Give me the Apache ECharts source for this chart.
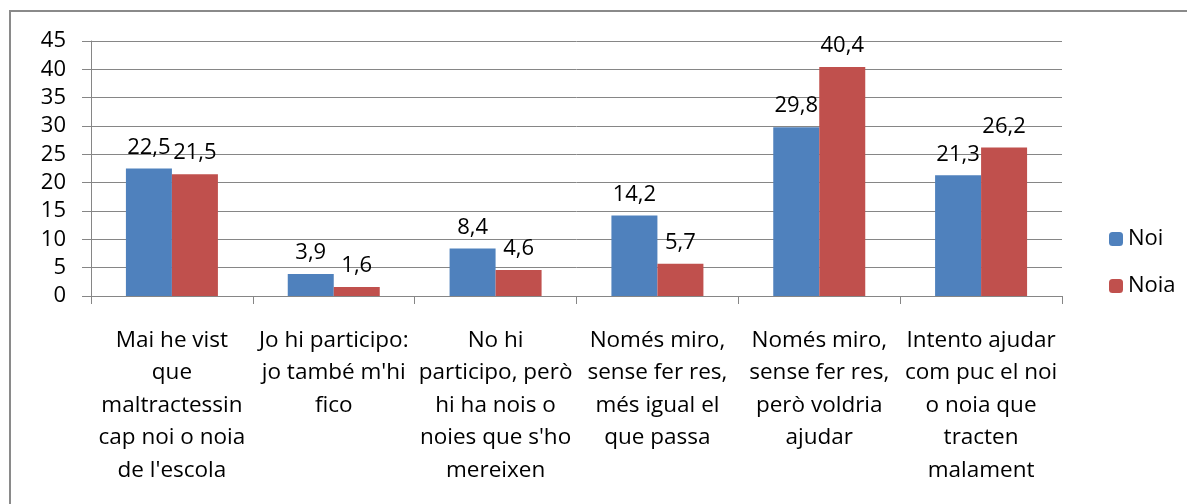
<!DOCTYPE html>
<html>
<head>
<meta charset="utf-8">
<script src="https://cdn.jsdelivr.net/npm/echarts@6/dist/echarts.min.js"></script>
<style>
  body { margin: 0; background: #fff; }
  #chart { width: 1187px; height: 504px; }
</style>
</head>
<body>
<div id="chart"></div>
<script>
var categories = [
  "Mai he vist\nque\nmaltractessin\ncap noi o noia\nde l'escola",
  "Jo hi participo:\njo també m'hi\nfico",
  "No hi\nparticipo, però\nhi ha nois o\nnoies que s'ho\nmereixen",
  "Només miro,\nsense fer res,\nmés igual el\nque passa",
  "Només miro,\nsense fer res,\nperò voldria\najudar",
  "Intento ajudar\ncom puc el noi\no noia que\ntracten\nmalament"
];
var noi = [22.5, 3.9, 8.4, 14.2, 29.8, 21.3];
var noia = [21.5, 1.6, 4.6, 5.7, 40.4, 26.2];
var yTicks = [0, 45, 5];

var font = '"Open Sans", "Noto Sans", sans-serif';
var chart = echarts.init(document.getElementById('chart'));

function comma(p) {
    return String(p.value).replace('.', ',');
}

var option = {
    animation: false,
    textStyle: { fontFamily: font },
    graphic: [{
        type: 'rect',
        shape: { x: 10, y: 11, width: 1300, height: 600 },
        style: { fill: 'none', stroke: '#8a8a8a', lineWidth: 2 },
        silent: true
    }],
    grid: { left: 91, top: 41, right: 125, bottom: 208 },
    legend: {
        orient: 'vertical',
        left: 1104,
        top: 223,
        itemWidth: 14,
        itemHeight: 14,
        itemGap: 25,
        selectedMode: false,
        textStyle: { fontSize: 22, color: '#000', fontFamily: font },
        data: ['Noi', 'Noia']
    },
    xAxis: {
        type: 'category',
        data: categories,
        axisLine: { lineStyle: { color: '#868686', width: 1 } },
        axisTick: { show: true, length: 8, lineStyle: { color: '#868686' } },
        axisLabel: {
            interval: 0,
            margin: 28,
            fontSize: 22.5,
            lineHeight: 32.5,
            color: '#000',
            align: 'center',
            fontFamily: font
        }
    },
    yAxis: {
        type: 'value',
        min: yTicks[0],
        max: yTicks[1],
        interval: yTicks[2],
        axisLine: { show: true, lineStyle: { color: '#868686' } },
        axisTick: { show: true, length: 9, lineStyle: { color: '#868686' } },
        splitLine: { lineStyle: { color: '#868686', width: 1 } },
        axisLabel: { fontSize: 22, color: '#000', margin: 25, fontFamily: font }
    },
    series: [
        {
            name: 'Noi',
            type: 'bar',
            data: noi,
            barWidth: 46,
            barGap: '0%',
            itemStyle: { color: '#4F81BD' },
            label: { show: true, position: 'top', distance: 10, fontSize: 22, color: '#000', fontFamily: font, formatter: comma }
        },
        {
            name: 'Noia',
            type: 'bar',
            data: noia,
            barWidth: 46,
            barGap: '0%',
            itemStyle: { color: '#C0504D' },
            label: { show: true, position: 'top', distance: 10, fontSize: 22, color: '#000', fontFamily: font, formatter: comma }
        }
    ]
};
chart.setOption(option);
</script>
</body>
</html>
